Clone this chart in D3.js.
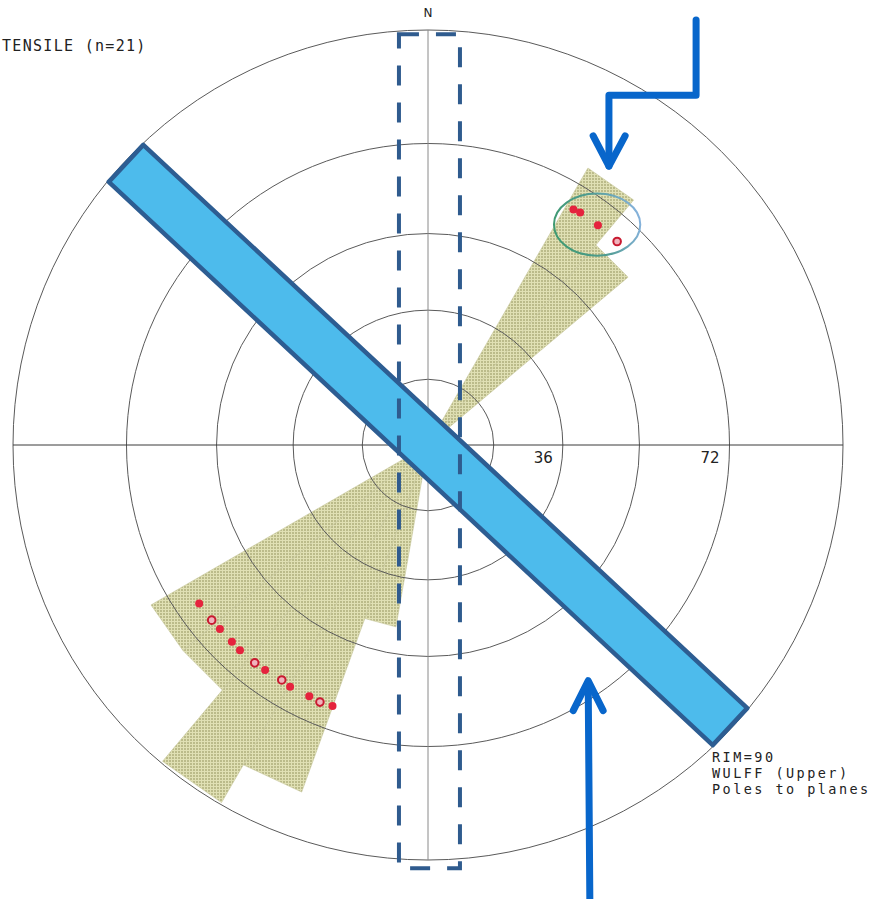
<!DOCTYPE html>
<html><head><meta charset="utf-8">
<script src="https://cdn.jsdelivr.net/npm/d3@7"></script>
<style>html,body{margin:0;padding:0;background:#fff;}svg{display:block;}</style>
</head><body>
<svg id="chart" width="873" height="899"></svg>
<script>
// ---------------- data ----------------
const title = "TENSILE (n=21)";
const legendLines = ["RIM=90", "WULFF (Upper)", "Poles to planes"];
const northLabel = "N";
// dip circles of the Wulff net (degrees from centre) and labelled ones
const dipCircles = [18, 36, 54, 72, 90];
const dipLabels = [36, 72];
// rose diagram: 10° bins (start azimuth) and counts
const roseBinStart = [30, 40, 190, 200, 210, 220, 230];
const roseCounts   = [3, 2, 1, 4, 5, 3, 3];
const roseBinWidth = 10;
const roseMax = 5;
// poles: azimuth (deg), angular distance from centre (deg), symbol type
const poleAz   = [31.7, 33.2, 37.7, 42.9,
                  235.3, 231.0, 228.5, 224.9, 222.5, 218.5, 215.9, 211.9, 209.7, 205.3, 202.8, 200.1];
const poleDist = [67.4, 67.6, 67.6, 67.6,
                  67.7, 67.7, 67.6, 67.6, 67.7, 67.7, 67.6, 67.4, 67.7, 67.6, 67.8, 67.6];
const poleType = ["dot", "dot", "dot", "ring",
                  "dot", "ring", "dot", "dot", "dot", "ring", "dot", "ring", "dot", "dot", "ring", "dot"];
// mean-pole confidence ellipse
const coneAz = 37.5, coneDist = 67.6, coneRx = 0.104, coneRy = 0.075;
// annotation band (strike of drawn plane through centre)
const bandAz = 133, bandHalfLen = 0.995, bandHalfWidth = 0.061;

// ---------------- layout ----------------
const cx = 428, cy = 445, R = 415;
const svg = d3.select("#chart");
const x = d3.scaleLinear().domain([-1, 1]).range([cx - R, cx + R]);
const y = d3.scaleLinear().domain([-1, 1]).range([cy + R, cy - R]);
const rad = d => d * Math.PI / 180;
const wulff = d => Math.tan(rad(d) / 2);           // normalised radius
const pt = (az, rn) => [x(rn * Math.sin(rad(az))), y(rn * Math.cos(rad(az)))];
const rRose = d3.scaleSqrt().domain([0, roseMax]).range([0, 0.995]);

// pattern for rose petals
const defs = svg.append("defs");
const pat = defs.append("pattern").attr("id", "hatch").attr("patternUnits", "userSpaceOnUse")
  .attr("width", 3).attr("height", 3);
pat.append("rect").attr("width", 3).attr("height", 3).attr("fill", "#bbbb8a");
pat.append("rect").attr("width", 3).attr("height", 1).attr("fill", "#e0e0b4");
pat.append("rect").attr("width", 1).attr("height", 3).attr("fill", "#e0e0b4");
const grad = defs.append("linearGradient").attr("id", "coneGrad").attr("x1", "0").attr("x2", "1").attr("y1", "0.6").attr("y2", "0.4");
grad.append("stop").attr("offset", "0").attr("stop-color", "#3f9a72");
grad.append("stop").attr("offset", "0.5").attr("stop-color", "#4f9c90");
grad.append("stop").attr("offset", "1").attr("stop-color", "#86b2dc");

// rose petals
const roseData = roseBinStart.map((a, i) => ({a0: a, a1: a + roseBinWidth, c: roseCounts[i]}));
svg.append("g").selectAll("path").data(roseData).join("path")
  .attr("d", d => {
    const p = d3.path();
    p.moveTo(x(0), y(0));
    const r = rRose(d.c);
    const A = pt(d.a0, r), B = pt(d.a1, r);
    p.lineTo(A[0], A[1]); p.lineTo(B[0], B[1]); p.closePath();
    return p.toString();
  })
  .attr("fill", "url(#hatch)").attr("stroke", "#c6c69a").attr("stroke-width", 0.6);

// net circles
svg.append("g").selectAll("circle").data(dipCircles).join("circle")
  .attr("cx", x(0)).attr("cy", y(0))
  .attr("r", d => x(wulff(d)) - x(0))
  .attr("fill", "none").attr("stroke", "#5a5a5a").attr("stroke-width", 1);

// axes
svg.append("line").attr("x1", x(0)).attr("x2", x(0)).attr("y1", y(1)).attr("y2", y(-1))
  .attr("stroke", "#8a8a8a").attr("stroke-width", 1);
svg.append("line").attr("x1", x(-1)).attr("x2", x(1)).attr("y1", y(0)).attr("y2", y(0))
  .attr("stroke", "#3a3a3a").attr("stroke-width", 1);

// dip labels
svg.append("g").selectAll("text").data(dipLabels).join("text")
  .attr("x", d => x(wulff(d)) - 10).attr("y", y(0) + 18)
  .attr("text-anchor", "end").attr("font-family", "DejaVu Sans, sans-serif")
  .attr("font-size", 15).attr("fill", "#222").text(d => d);

// poles
const poles = poleAz.map((a, i) => ({az: a, d: poleDist[i], t: poleType[i]}));
svg.append("g").selectAll("circle").data(poles).join("circle")
  .attr("cx", d => pt(d.az, wulff(d.d))[0]).attr("cy", d => pt(d.az, wulff(d.d))[1])
  .attr("r", d => d.t === "dot" ? 4 : 3.8)
  .attr("fill", d => d.t === "dot" ? "#e5233d" : "#f1b3bc")
  .attr("stroke", d => d.t === "dot" ? "none" : "#c81a30")
  .attr("stroke-width", 2);

// confidence ellipse
const cc = pt(coneAz, wulff(coneDist));
svg.append("ellipse").attr("cx", cc[0]).attr("cy", cc[1])
  .attr("rx", x(coneRx) - x(0)).attr("ry", y(0) - y(coneRy))
  .attr("fill", "none").attr("stroke", "url(#coneGrad)").attr("stroke-width", 2);

// annotation band
const u = [Math.sin(rad(bandAz)), Math.cos(rad(bandAz))];
const v = [Math.cos(rad(bandAz)), -Math.sin(rad(bandAz))];
const corners = [[-1, 1], [-1, -1], [1, -1], [1, 1]].map(([s, t]) =>
  [x(s * bandHalfLen * u[0] + t * bandHalfWidth * v[0]), y(s * bandHalfLen * u[1] + t * bandHalfWidth * v[1])]);
svg.append("path").attr("d", d3.line()(corners) + "Z")
  .attr("fill", "#4dbbec").attr("stroke", "#2d5d92").attr("stroke-width", 4.5).attr("stroke-linejoin", "round");

// dashed N-S box
const box = {x0: -0.07, x1: 0.077, y0: -1.02, y1: 0.99};
svg.append("rect").attr("x", x(box.x0)).attr("y", y(box.y1))
  .attr("width", x(box.x1) - x(box.x0)).attr("height", y(box.y0) - y(box.y1))
  .attr("fill", "none").attr("stroke", "#2f5b8e").attr("stroke-width", 4)
  .attr("stroke-dasharray", "20,17");

// arrows
const arrowColor = "#0866cb";
const line = d3.line().x(d => x(d[0])).y(d => y(d[1]));
const topArrow = [[0.646, 1.024], [0.646, 0.843], [0.436, 0.843], [0.436, 0.672]];
const topHead = [[0.398, 0.745], [0.436, 0.672], [0.475, 0.745]];
const botArrow = [[0.390, -1.10], [0.386, -0.572]];
const botHead = [[0.350, -0.640], [0.386, -0.568], [0.422, -0.640]];
[topArrow, topHead, botArrow, botHead].forEach(pts => {
  svg.append("path").attr("d", line(pts)).attr("fill", "none")
    .attr("stroke", arrowColor).attr("stroke-width", 7)
    .attr("stroke-linejoin", "round").attr("stroke-linecap", "round");
});

// texts
svg.append("text").attr("x", x(0)).attr("y", 17).attr("text-anchor", "middle")
  .attr("font-family", "DejaVu Sans, sans-serif").attr("font-size", 12).attr("fill", "#222").text(northLabel);
svg.append("text").attr("x", 2).attr("y", 51)
  .attr("font-family", "DejaVu Sans Mono, monospace").attr("font-size", 15).attr("letter-spacing", 1.3)
  .attr("fill", "#222").text(title);
svg.append("g").selectAll("text").data(legendLines).join("text")
  .attr("x", 712).attr("y", (d, i) => 762 + i * 16)
  .attr("font-family", "DejaVu Sans Mono, monospace").attr("font-size", 13.5).attr("letter-spacing", 2.45)
  .attr("fill", "#222").text(d => d);
</script>
</body></html>
